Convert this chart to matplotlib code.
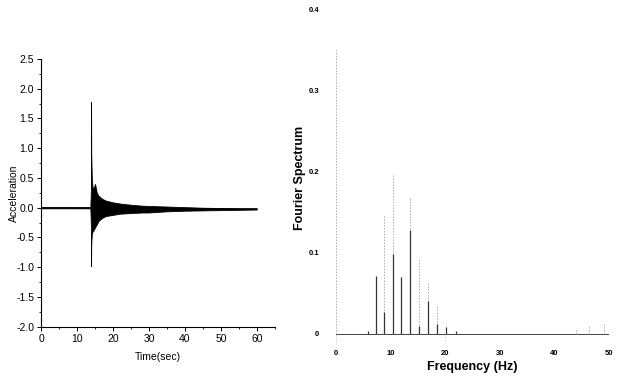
import matplotlib
matplotlib.use("Agg")
import matplotlib.pyplot as plt
from matplotlib.ticker import MultipleLocator

# ---- Left panel: acceleration time history (envelope)
time_s = [0, 13.7, 13.85, 13.9, 13.95, 14.1, 14.3, 14.6, 15.0, 15.5, 16, 17, 18,
          20, 22, 25, 28, 30, 35, 40, 45, 50, 55, 60]
acc_upper = [0.01, 0.01, 0.3, 1.78, 0.9, 0.5, 0.35, 0.32, 0.40, 0.25, 0.20, 0.15,
             0.12, 0.09, 0.07, 0.05, 0.035, 0.03, 0.02, 0.01, 0.0, -0.005, -0.01, -0.01]
acc_lower = [-0.01, -0.01, -0.3, -0.98, -0.6, -0.45, -0.40, -0.38, -0.33, -0.28,
             -0.22, -0.17, -0.14, -0.12, -0.10, -0.09, -0.08, -0.08, -0.06, -0.05,
             -0.045, -0.04, -0.035, -0.03]
left_yticks = [-2.0, -1.5, -1.0, -0.5, 0.0, 0.5, 1.0, 1.5, 2.0, 2.5]
left_xticks = [0, 10, 20, 30, 40, 50, 60]

# ---- Right panel: Fourier spectrum peaks
peak_freq = [0.0, 5.9, 7.4, 8.9, 10.5, 12.0, 13.6, 15.2, 16.9, 18.5, 20.2, 22.0,
             44.0, 46.3, 49.0]
peak_amp = [0.35, 0.003, 0.071, 0.146, 0.195, 0.070, 0.167, 0.092, 0.064, 0.034,
            0.009, 0.004, 0.006, 0.010, 0.012]
peak_solid = [0.0, 0.003, 0.071, 0.027, 0.098, 0.070, 0.128, 0.010, 0.040, 0.012,
              0.009, 0.004, 0.0, 0.0, 0.0]
dip_freq = [0.0, 20.0]
dip_amp = [-0.011, -0.008]
right_yticks = [0, 0.1, 0.2, 0.3, 0.4]
right_ytick_labels = ["0", "0.1", "0.2", "0.3", "0.4"]
right_xticks = [0, 10, 20, 30, 40, 50]

fig = plt.figure(figsize=(6.23, 3.77), dpi=100)
narrow = ["Liberation Sans Narrow", "Liberation Sans", "DejaVu Sans"]
sans = ["Liberation Sans", "DejaVu Sans"]

# Left axes
ax1 = fig.add_axes([0.066, 0.1334, 0.375, 0.7101])
ax1.fill_between(time_s, acc_lower, acc_upper, color="black", linewidth=0.6,
                 edgecolor="black")
ax1.plot([0, 60], [0, -0.02], color="black", linewidth=0.7)
ax1.set_xlim(0, 65)
ax1.set_ylim(-2.0, 2.5)
ax1.set_xticks(left_xticks)
ax1.set_yticks(left_yticks)
ax1.set_xticklabels([str(v) for v in left_xticks], family=narrow, fontsize=7.5)
ax1.set_yticklabels(["%.1f" % v for v in left_yticks], family=narrow, fontsize=7.5)
ax1.xaxis.set_minor_locator(MultipleLocator(5))
ax1.yaxis.set_minor_locator(MultipleLocator(0.25))
ax1.tick_params(which="major", direction="out", length=3, width=0.7, pad=2)
ax1.tick_params(which="minor", direction="out", length=1.5, width=0.6)
for s in ("top", "right"):
    ax1.spines[s].set_visible(False)
for s in ("left", "bottom"):
    ax1.spines[s].set_linewidth(0.8)
ax1.set_xlabel("Time(sec)", family=narrow, fontsize=7.5)
ax1.set_ylabel("Acceleration", family=narrow, fontsize=7.5)
ax1.xaxis.set_label_coords(0.5, -0.094)
ax1.yaxis.set_label_coords(-0.094, 0.5)

# Right axes
ax2 = fig.add_axes([0.539, 0.0822, 0.4385, 0.8939])
ax2.plot([0, 50], [0, 0], color="#444444", linewidth=0.7)
ax2.vlines(peak_freq, 0, peak_amp, colors="#aaaaaa", linewidth=0.7,
           linestyles=(0, (1.5, 1.5)))
ax2.vlines(peak_freq, 0, peak_solid, colors="#333333", linewidth=0.9)
ax2.vlines(dip_freq, dip_amp, 0, colors="#aaaaaa", linewidth=0.6,
           linestyles=(0, (1, 2)))
ax2.set_xlim(0, 50)
ax2.set_ylim(-0.015, 0.4)
ax2.set_xticks(right_xticks)
ax2.set_yticks(right_yticks)
ax2.set_xticklabels([str(v) for v in right_xticks], family=sans,
                    fontsize=5.5, fontweight="bold")
ax2.set_yticklabels(right_ytick_labels, family=sans,
                    fontsize=5.5, fontweight="bold")
ax2.tick_params(axis="x", length=0, pad=3)
ax2.tick_params(axis="y", length=0, pad=12)
for s in ax2.spines.values():
    s.set_visible(False)
ax2.set_xlabel("Frequency (Hz)", family=sans, fontsize=9, fontweight="bold")
ax2.set_ylabel("Fourier Spectrum", family=sans, fontsize=9, fontweight="bold")
ax2.xaxis.set_label_coords(0.5, -0.045)
ax2.yaxis.set_label_coords(-0.109, 0.5)

fig.savefig("out.png", dpi=100)
